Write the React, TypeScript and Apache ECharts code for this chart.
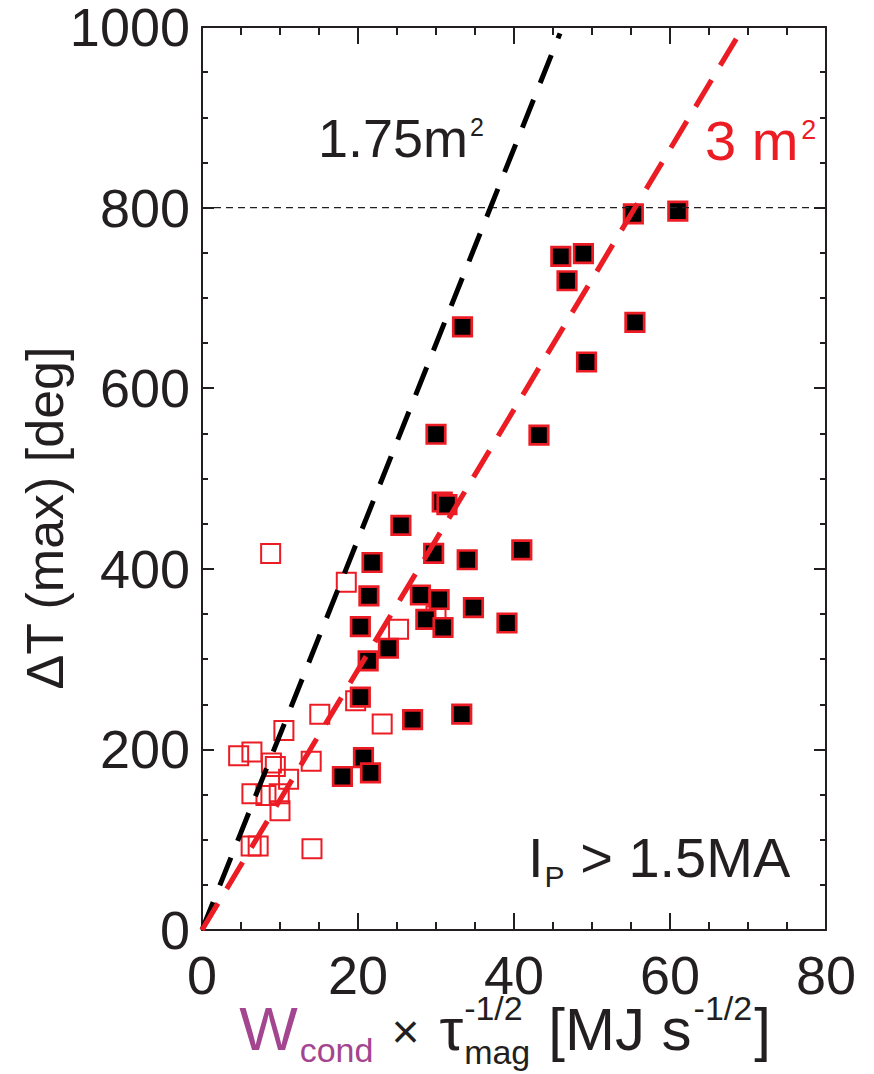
import React, { useEffect, useRef } from "react";
import * as echarts from "echarts";

const RED = "#ec1c24";
const BLACK = "#231f20";
const PURPLE = "#a3458f";
const FONT = "'Liberation Sans', Arial, Helvetica, sans-serif";

// Filled squares (black with red edge)
const filledX = [55.3, 61.0, 46.0, 48.9, 46.8, 55.5, 49.3, 33.4, 30.0, 43.2, 30.8, 31.4, 25.5, 29.7, 34.0, 41.0, 21.8, 21.4, 28.0, 30.4, 34.8, 39.1, 28.7, 30.9, 20.3, 23.9, 21.3, 20.3, 27.0, 33.3, 20.7, 21.6, 18.0];
const filledY = [793, 796, 746, 749, 719, 673, 629, 668, 549, 548, 474, 471, 448, 417, 410, 421, 407, 370, 371, 366, 357, 340, 344, 335, 336, 312, 298, 258, 233, 239, 191, 174, 170];

// Open squares (red edge only)
const openX = [30.0, 25.2, 18.5, 8.8, 19.7, 23.1, 15.1, 10.5, 14.0, 4.7, 6.4, 8.9, 9.4, 11.1, 6.4, 8.2, 9.9, 10.0, 6.3, 7.2, 14.1];
const openY = [348, 333, 385, 417, 254, 228, 239, 221, 187, 193, 197, 185, 181, 167, 151, 149, 151, 132, 93, 93, 90];

// Reference lines
const line175X = [0, 45.9];
const line175Y = [0, 993];
const line3X = [0, 69.4];
const line3Y = [0, 1000];
const refX = [0, 80];
const refY = [800, 800];

const xMin = 0, xMax = 80, xStep = 20;
const yMin = 0, yMax = 1000, yStep = 200;

const zip = (a: number[], b: number[]) => a.map((v, i) => [v, b[i]]);

type Seg = { t: string; f: number; c: string; dy: number; stack?: boolean; gap?: number };

function layoutSegs(segs: Seg[], x0: number, baseline: number, align: "left" | "center") {
  const canvas = document.createElement("canvas");
  const ctx = canvas.getContext("2d")!;
  let x = 0;
  let stackStart = 0;
  let prevW = 0;
  const items: { s: Seg; sx: number }[] = [];
  for (const s of segs) {
    ctx.font = `${s.f}px ${FONT}`;
    const w = ctx.measureText(s.t).width;
    const g = s.gap || 0;
    let sx: number;
    if (s.stack) {
      sx = stackStart;
      x = Math.max(stackStart + prevW, stackStart + w);
    } else {
      sx = x + g;
      stackStart = sx;
      prevW = w;
      x = sx + w;
    }
    items.push({ s, sx });
  }
  const off = align === "center" ? x0 - x / 2 : x0;
  return items.map(({ s, sx }) => ({
    type: "text",
    x: off + sx,
    y: baseline + s.dy - 0.3465 * s.f,
    silent: true,
    style: {
      text: s.t,
      fontSize: s.f,
      fontFamily: FONT,
      fill: s.c,
      align: "left",
      verticalAlign: "middle",
    },
  }));
}

export default function App() {
  const ref = useRef<HTMLDivElement>(null);
  useEffect(() => {
    if (!ref.current) return;
    const chart = echarts.init(ref.current, undefined, { renderer: "svg" });

    const axisCommon = {
      axisLine: { show: true, onZero: false, lineStyle: { color: BLACK, width: 2 } },
      splitLine: { show: false },
    };

    const xTitle = layoutSegs(
      [
        { t: "W", f: 62, c: PURPLE, dy: 0 },
        { t: "cond", f: 34, c: PURPLE, dy: 12, gap: 2 },
        { t: "×", f: 48, c: BLACK, dy: -2, gap: 18 },
        { t: "τ", f: 60, c: BLACK, dy: 0, gap: 20 },
        { t: "mag", f: 34, c: BLACK, dy: 14, gap: 1 },
        { t: "-1/2", f: 34, c: BLACK, dy: -30, stack: true },
        { t: "[MJ s", f: 60, c: BLACK, dy: 0, gap: 18 },
        { t: "-1/2", f: 34, c: BLACK, dy: -30, gap: 2 },
        { t: "]", f: 60, c: BLACK, dy: 0, gap: 2 },
      ],
      505,
      1050,
      "center"
    );
    const ann175 = layoutSegs(
      [
        { t: "1.75m", f: 54, c: BLACK, dy: 0 },
        { t: "2", f: 25, c: BLACK, dy: -21, gap: 2 },
      ],
      318,
      157,
      "left"
    );
    const ann3 = layoutSegs(
      [
        { t: "3 m", f: 56, c: RED, dy: 0 },
        { t: "2", f: 27, c: RED, dy: -21, gap: 3 },
      ],
      705,
      160,
      "left"
    );
    const annIp = layoutSegs(
      [
        { t: "I", f: 56, c: BLACK, dy: 0 },
        { t: "P", f: 30, c: BLACK, dy: 10, gap: 1 },
        { t: " > 1.5MA", f: 56, c: BLACK, dy: 0 },
      ],
      528,
      877,
      "left"
    );

    const plainLabel = (v: number) => String(v);

    const option: any = {
      animation: false,
      grid: { left: 202, top: 21, width: 624, height: 909, containLabel: false },
      xAxis: [
        {
          type: "value",
          min: xMin,
          max: xMax,
          interval: xStep,
          position: "bottom",
          ...axisCommon,
          axisTick: { show: true, inside: true, length: 17, lineStyle: { color: BLACK, width: 2 } },
          minorTick: { show: true, splitNumber: 4, length: 8, lineStyle: { color: BLACK, width: 2 } },
          axisLabel: { show: true, fontSize: 54, fontFamily: FONT, color: BLACK, margin: 18, formatter: plainLabel },
        },
        {
          type: "value",
          min: xMin,
          max: xMax,
          interval: xStep,
          position: "top",
          ...axisCommon,
          axisTick: { show: true, inside: true, length: 17, lineStyle: { color: BLACK, width: 2 } },
          minorTick: { show: true, splitNumber: 4, length: 8, lineStyle: { color: BLACK, width: 2 } },
          axisLabel: { show: false },
        },
      ],
      yAxis: [
        {
          type: "value",
          min: yMin,
          max: yMax,
          interval: yStep,
          position: "left",
          ...axisCommon,
          axisTick: { show: true, inside: true, length: 12, lineStyle: { color: BLACK, width: 2 } },
          minorTick: { show: true, splitNumber: 4, length: 6, lineStyle: { color: BLACK, width: 2 } },
          axisLabel: { show: true, fontSize: 54, fontFamily: FONT, color: BLACK, margin: 12, formatter: plainLabel },
        },
        {
          type: "value",
          min: yMin,
          max: yMax,
          interval: yStep,
          position: "right",
          ...axisCommon,
          axisTick: { show: true, inside: true, length: 12, lineStyle: { color: BLACK, width: 2 } },
          minorTick: { show: true, splitNumber: 4, length: 6, lineStyle: { color: BLACK, width: 2 } },
          axisLabel: { show: false },
        },
      ],
      series: [
        {
          type: "scatter",
          name: "open",
          symbol: "rect",
          symbolSize: 19,
          silent: true,
          data: zip(openX, openY),
          itemStyle: { color: "rgba(255,255,255,0)", borderColor: RED, borderWidth: 2, opacity: 1 },
        },
        {
          type: "line",
          name: "ref800",
          data: zip(refX, refY),
          showSymbol: false,
          symbol: "none",
          silent: true,
          lineStyle: { color: BLACK, width: 1.4, type: [7, 5] },
        },
        {
          type: "line",
          name: "1.75m2",
          data: zip(line175X, line175Y),
          showSymbol: false,
          symbol: "none",
          silent: true,
          lineStyle: { color: "#000", width: 5, type: [30, 18], cap: "butt" },
        },
        {
          type: "line",
          name: "3m2",
          data: zip(line3X, line3Y),
          showSymbol: false,
          symbol: "none",
          silent: true,
          lineStyle: { color: RED, width: 5.2, type: [31, 17], cap: "butt" },
        },
        {
          type: "scatter",
          name: "filled",
          symbol: "rect",
          symbolSize: 18.5,
          silent: true,
          data: zip(filledX, filledY),
          itemStyle: { color: "#000", borderColor: RED, borderWidth: 2.7, opacity: 1 },
        },
      ],
      graphic: [
        ...xTitle,
        ...ann175,
        ...ann3,
        ...annIp,
        {
          type: "text",
          x: 45,
          y: 518,
          rotation: Math.PI / 2,
          silent: true,
          style: {
            text: "ΔT (max) [deg]",
            fontSize: 52,
            fontFamily: FONT,
            fill: BLACK,
            align: "center",
            verticalAlign: "middle",
          },
        },
      ],
    };
    chart.setOption(option);
    return () => chart.dispose();
  }, []);
  return (
    <div
      ref={ref}
      style={{ position: "fixed", left: 0, top: 0, width: 874, height: 1074, background: "#fff" }}
    />
  );
}
